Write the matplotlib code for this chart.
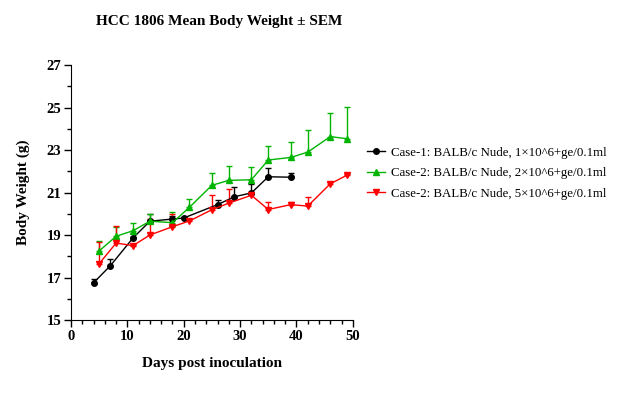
import numpy as np
import matplotlib as mpl
import matplotlib.pyplot as plt
from matplotlib.lines import Line2D
from matplotlib.ticker import MultipleLocator

mpl.rcParams["font.family"] = ["Liberation Serif", "DejaVu Serif"]

# case-1, 1x10^6
days1 = [4, 7, 11, 14, 18, 20, 26, 29, 32, 35, 39]
bw1 = [16.75, 17.56, 18.86, 19.65, 19.75, 19.8, 20.43, 20.8, 20.98, 21.74, 21.72]
sem1 = [0.2, 0.3, 0.05, 0.35, 0.15, 0.05, 0.22, 0.45, 0.4, 0.4, 0.2]

# case-2, 2x10^6
days2 = [5, 8, 11, 14, 18, 21, 25, 28, 32, 35, 39, 42, 46, 49]
bw2 = [18.25, 18.94, 19.2, 19.65, 19.58, 20.3, 21.34, 21.57, 21.6, 22.53, 22.65, 22.9, 23.63, 23.53]
sem2 = [0.45, 0.45, 0.35, 0.35, 0.5, 0.4, 0.6, 0.7, 0.6, 0.65, 0.75, 1.05, 1.1, 1.5]

# case-2, 5x10^6
days3 = [5, 8, 11, 14, 18, 21, 25, 28, 32, 35, 39, 42, 46, 49]
bw3 = [17.65, 18.62, 18.5, 19.0, 19.39, 19.66, 20.19, 20.5, 20.87, 20.2, 20.43, 20.36, 21.41, 21.82]
sem3 = [1.0, 0.8, 0.05, 0.75, 0.6, 0.05, 0.68, 0.65, 0.1, 0.33, 0.1, 0.45, 0.08, 0.05]

labels = ["Case-1: BALB/c Nude, 1\u00d710^6+ge/0.1ml",
          "Case-2: BALB/c Nude, 2\u00d710^6+ge/0.1ml",
          "Case-2: BALB/c Nude, 5\u00d710^6+ge/0.1ml"]

fig = plt.figure(figsize=(6.19, 4.0), dpi=100)
ax = fig.add_axes([0.1147, 0.2, 0.4553, 0.6375])

series = [(days1, bw1, sem1, "black", "o"),
          (days2, bw2, sem2, "#00b400", "^"),
          (days3, bw3, sem3, "red", "v")]
handles = []
for (x, y, e, c, m), lab in zip(series, labels):
    ax.errorbar(x, y, yerr=[np.zeros(len(e)), e], color=c, marker=m, markersize=4,
                lw=1, elinewidth=1, capsize=2.5, capthick=1)
    handles.append(Line2D([], [], color=c, marker=m, markersize=4, lw=1, label=lab))

ax.set_xlim(0, 50)
ax.set_ylim(15, 27)
ax.xaxis.set_major_locator(MultipleLocator(10))
ax.xaxis.set_minor_locator(MultipleLocator(2))
ax.set_yticks([15, 17, 19, 21, 23, 25, 27])
ax.yaxis.set_minor_locator(MultipleLocator(1))
ax.spines["top"].set_visible(False)
ax.spines["right"].set_visible(False)
ax.tick_params(which="major", length=5, width=1, labelsize=10.5, pad=2)
ax.tick_params(which="minor", length=3, width=1)
for t in ax.get_xticklabels() + ax.get_yticklabels():
    t.set_fontweight("bold")

ax.set_xlabel("Days post inoculation", fontsize=11, fontweight="bold", labelpad=10)
ax.set_ylabel("Body Weight (g)", fontsize=11, fontweight="bold", labelpad=12)
fig.text(0.354, 0.945, "HCC 1806 Mean Body Weight \u00b1 SEM", ha="center", va="center",
         fontsize=11, fontweight="bold")

ax.legend(handles=handles, loc="center left", bbox_to_anchor=(1.01, 0.576), frameon=False,
          fontsize=9.3, handlelength=1.4, handletextpad=0.4, labelspacing=0.65)

fig.savefig("out.png", dpi=100)
